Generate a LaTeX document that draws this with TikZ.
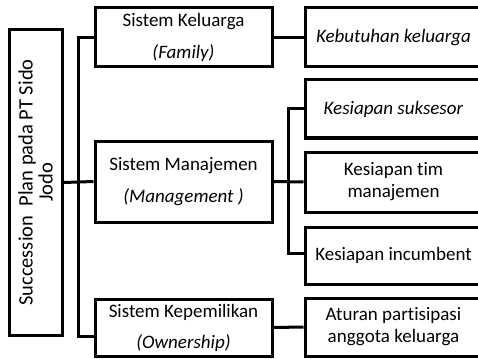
\documentclass[tikz,border=0pt]{standalone}
\usepackage{fontspec}
\setmainfont{Carlito}[Ligatures={NoCommon}]
\begin{document}
\begin{tikzpicture}[x=1pt,y=-1pt,line width=3pt,
 bx/.style={draw,rectangle,align=center,inner sep=0pt,font=\fontsize{19}{22}\selectfont,minimum width=177pt},
 ln/.style={draw,line width=3pt}]
\useasboundingbox (0,0) rectangle (478,358);
 \node[bx,rotate=90,minimum width=305pt,minimum height=53pt,font=\fontsize{20.5}{20}\selectfont] (root) at (35.5,182.5) {Succession\ \ Plan pada PT Sido\\Jodo};
 \node[bx,minimum height=59pt] (fam) at (183.5,37.5) {Sistem Keluarga\\[10pt]\textit{(Family)}};
 \node[bx,minimum height=81pt] (mgmt) at (183.5,181.5) {Sistem Manajemen\\[10pt]\textit{(Management )}};
 \node[bx,minimum height=57pt] (own) at (183.5,327.5) {Sistem Kepemilikan\\[9pt]\textit{(Ownership)}};
 \node[bx,minimum height=59pt] (keb) at (393.5,37.5) {\textit{Kebutuhan keluarga}};
 \node[bx,minimum height=58pt] (suk) at (393.5,109) {\textit{Kesiapan suksesor}};
 \node[bx,minimum height=60pt] (tim) at (393.5,182) {Kesiapan tim\\manajemen};
 \node[bx,minimum height=57pt] (inc) at (393.5,255.5) {Kesiapan incumbent};
 \node[bx,minimum height=58pt] (atur) at (393.5,327) {Aturan partisipasi\\anggota keluarga};
 \coordinate (ownin) at ([yshift=-8.5pt]own.west);
 \coordinate (incin) at ([yshift=2.5pt]inc.west);
 % left trunk
 \draw (fam.west) -- ++(-15,0) |- (ownin);
 \draw (root.south) -- (mgmt.west);
 % right trunk
 \draw (suk.west) -- ++(-15,0) |- (incin);
 \draw (mgmt.east) -- (tim.west);
 \draw (fam.east) -- (keb.west);
 \draw (own.east) -- (atur.west);
\end{tikzpicture}
\end{document}
